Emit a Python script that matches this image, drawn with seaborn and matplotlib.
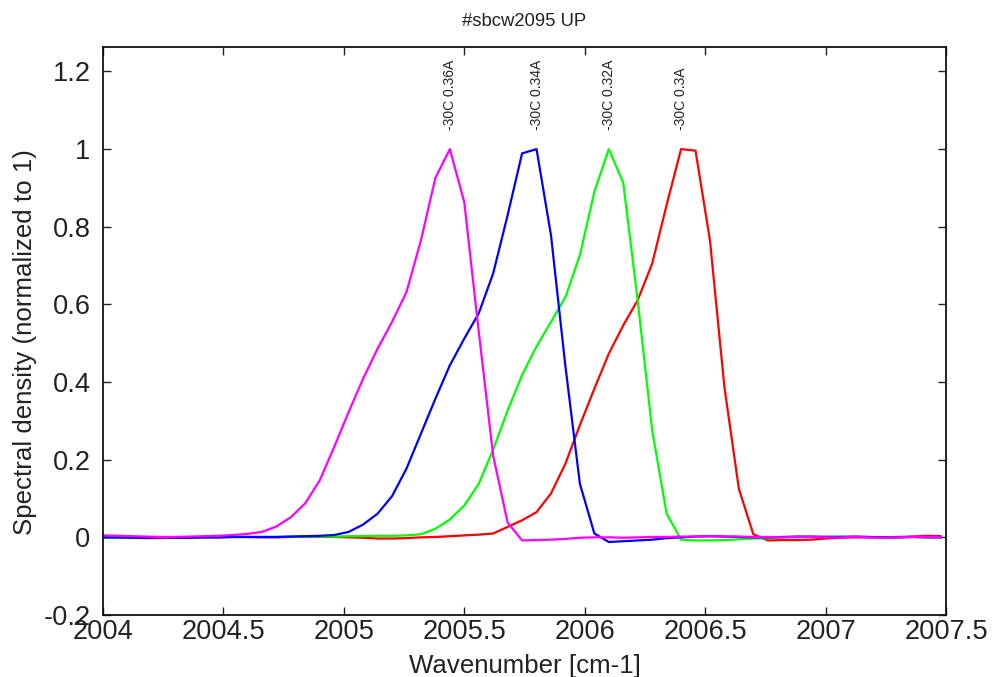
import numpy as np
import pandas as pd
import matplotlib
matplotlib.use("Agg")
import matplotlib.pyplot as plt
import seaborn as sns

# ---- data ----
x_start = 2004.0
x_step = 0.06
n_pts = 59
wavenumber = [round(x_start + x_step * i, 4) for i in range(n_pts)]

series_names = ["-30C 0.3A", "-30C 0.32A", "-30C 0.34A", "-30C 0.36A"]
series_colors = ["#FF0000", "#00FF00", "#0000FF", "#FF00FF"]

red = [0.0, 0.0, -0.001, -0.002, -0.002, -0.001, -0.001, 0.0, 0.0, 0.001,
       0.001, 0.0, 0.0, 0.001, 0.001, 0.001, 0.001, 0.0, -0.001, -0.003,
       -0.003, -0.002, 0.0, 0.001, 0.003, 0.005, 0.007, 0.010, 0.027, 0.044,
       0.065, 0.113, 0.190, 0.289, 0.383, 0.473, 0.546, 0.611, 0.705, 0.856,
       1.000, 0.996, 0.765, 0.387, 0.125, 0.008, -0.008, -0.007, -0.007, -0.006,
       -0.003, -0.001, 0.0, 0.0, 0.0, 0.001, 0.002, 0.004, 0.003]

green = [0.0, -0.001, -0.001, 0.0, 0.0, -0.001, 0.0, 0.0, 0.001, 0.001,
         0.001, 0.001, 0.001, 0.002, 0.002, 0.002, 0.002, 0.003, 0.003, 0.004,
         0.004, 0.005, 0.008, 0.022, 0.046, 0.082, 0.138, 0.226, 0.327, 0.418,
         0.492, 0.555, 0.619, 0.727, 0.890, 1.000, 0.913, 0.610, 0.276, 0.061,
         -0.006, -0.008, -0.008, -0.007, -0.005, -0.003, -0.002, 0.0, 0.001, 0.001,
         0.002, 0.002, 0.001, 0.001, 0.0, 0.0, 0.001, 0.0, 0.0]

blue = [0.0, 0.0, -0.001, -0.001, 0.0, -0.001, -0.001, 0.0, 0.0, 0.001,
        0.001, 0.001, 0.001, 0.002, 0.003, 0.004, 0.006, 0.014, 0.033, 0.061,
        0.106, 0.177, 0.267, 0.357, 0.443, 0.512, 0.577, 0.680, 0.830, 0.989,
        1.000, 0.778, 0.440, 0.138, 0.010, -0.012, -0.010, -0.008, -0.006, -0.002,
        0.0, 0.002, 0.003, 0.002, 0.001, 0.0, 0.0, 0.001, 0.002, 0.002,
        0.001, 0.001, 0.002, 0.001, 0.0, 0.0, 0.001, 0.0, 0.0]

magenta = [0.005, 0.004, 0.003, 0.002, 0.001, 0.001, 0.002, 0.003, 0.004, 0.006,
           0.009, 0.014, 0.028, 0.052, 0.088, 0.147, 0.233, 0.323, 0.409, 0.486,
           0.555, 0.632, 0.765, 0.926, 1.000, 0.863, 0.530, 0.210, 0.038, -0.008,
           -0.007, -0.006, -0.004, -0.001, 0.0, 0.0, -0.001, 0.0, 0.001, 0.001,
           0.002, 0.002, 0.003, 0.002, 0.002, 0.001, 0.001, 0.0, 0.001, 0.001,
           0.0, 0.0, 0.001, 0.0, -0.001, 0.0, 0.001, 0.001, 0.0]

x_ticks = [2004, 2004.5, 2005, 2005.5, 2006, 2006.5, 2007, 2007.5]
x_tick_labels = ["2004", "2004.5", "2005", "2005.5", "2006", "2006.5", "2007", "2007.5"]
y_ticks = [-0.2, 0, 0.2, 0.4, 0.6, 0.8, 1.0, 1.2]
y_tick_labels = ["-0.2", "0", "0.2", "0.4", "0.6", "0.8", "1", "1.2"]

title = "#sbcw2095 UP"
x_label = "Wavenumber [cm-1]"
y_label = "Spectral density (normalized to 1)"

# ---- build frame ----
all_vals = [red, green, blue, magenta]
df = pd.concat(
    [pd.DataFrame({"wavenumber": wavenumber, "density": v, "series": name})
     for name, v in zip(series_names, all_vals)],
    ignore_index=True,
)

sns.set_theme(style="ticks")
plt.rcParams["font.family"] = ["Liberation Sans", "DejaVu Sans"]
plt.rcParams["axes.unicode_minus"] = False

fig = plt.figure(figsize=(9.97, 6.77), dpi=100)
ax = fig.add_axes([103 / 997, 1 - 615 / 677, (946 - 103) / 997, (615 - 47) / 677])

sns.lineplot(
    data=df, x="wavenumber", y="density", hue="series",
    hue_order=series_names, palette=dict(zip(series_names, series_colors)),
    linewidth=1.6, sort=False, legend=False, ax=ax,
)

# peak annotations
for name, v in zip(series_names, all_vals):
    px = wavenumber[int(np.argmax(v))]
    ax.text(px, 1.05, name, rotation=90, ha="center", va="bottom",
            fontsize=10, color="#222222")

ax.set_xlim(2004, 2007.5)
ax.set_ylim(-0.2, 1.263)
ax.set_xticks(x_ticks)
ax.set_xticklabels(x_tick_labels)
ax.set_yticks(y_ticks)
ax.set_yticklabels(y_tick_labels)
ax.tick_params(direction="in", top=True, right=True, length=6, width=1.0,
               labelsize=19.6, colors="#222222")
ax.tick_params(axis="x", pad=3)
ax.tick_params(axis="y", pad=9)
for sp in ax.spines.values():
    sp.set_visible(True)
    sp.set_color("#111111")
    sp.set_linewidth(1.3)

ax.set_xlabel(x_label, fontsize=18.6, color="#222222", labelpad=6)
ax.set_ylabel(y_label, fontsize=18.6, color="#222222")
ax.yaxis.set_label_coords(-0.078, (615 - 342) / 568)
ax.set_title(title, fontsize=13.3, color="#222222", pad=15)

fig.savefig("out.png", dpi=100, facecolor="white")
